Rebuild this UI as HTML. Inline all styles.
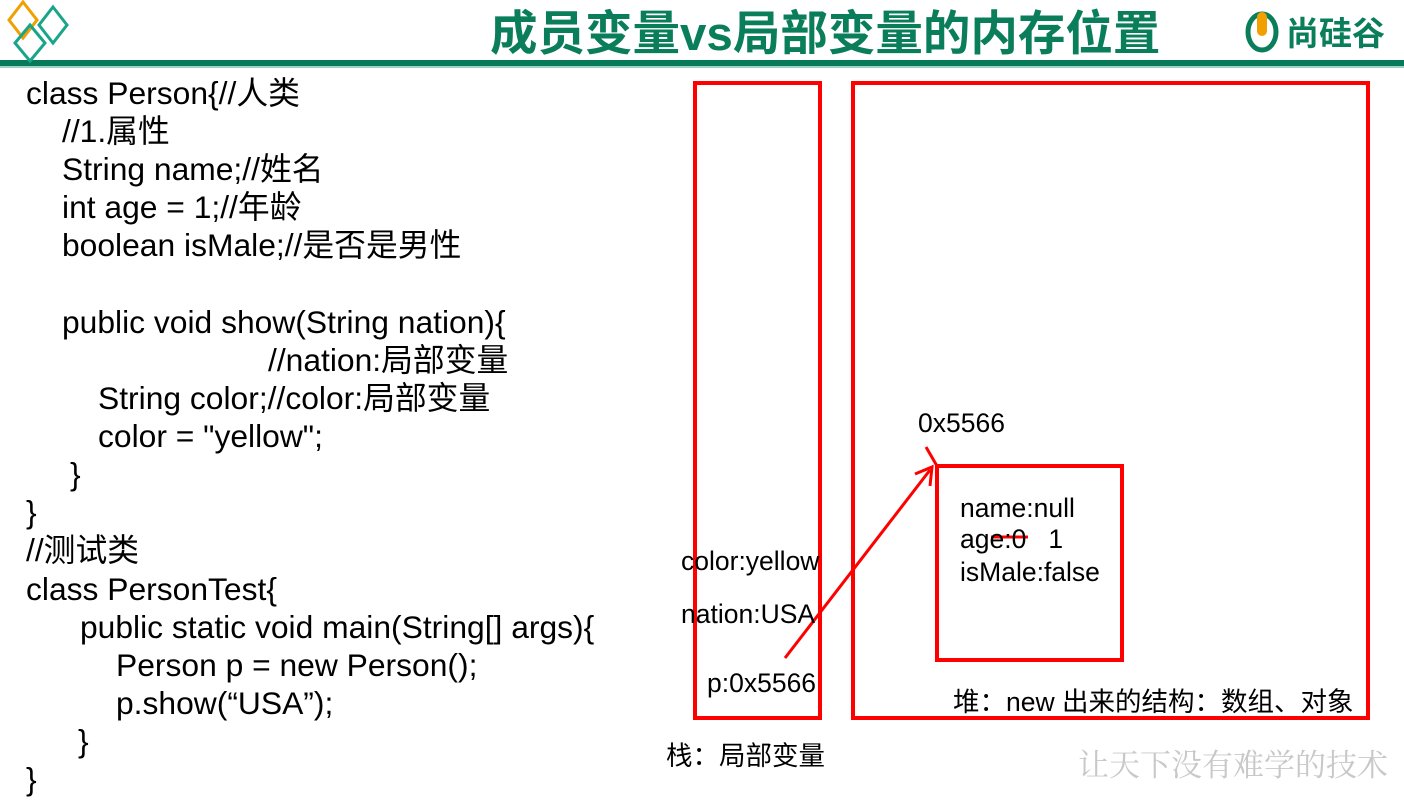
<!DOCTYPE html>
<html><head><meta charset="utf-8"><style>
body{margin:0;width:1404px;height:801px;background:#fff;position:relative;overflow:hidden;font-family:"Liberation Sans","Noto Sans CJK SC",sans-serif;}
.t{position:absolute;white-space:pre;font-size:31.8px;color:#000;line-height:38px;}
.s{position:absolute;white-space:pre;font-size:26.5px;color:#000;line-height:30px;}
</style></head><body>
<svg width="1404" height="801" style="position:absolute;left:0;top:0">
<rect x="0" y="60" width="1404" height="6" fill="#077a5a"/>
<rect x="0" y="66" width="1404" height="2" fill="#9fd1c2"/>
<polygon points="23,2 37,20 23,38 9,20" fill="none" stroke="#f0a000" stroke-width="3"/>
<polygon points="53,7 67,25 53,43 39,25" fill="none" stroke="#1aa58a" stroke-width="3"/>
<polygon points="30,25 45,43 30,61 15,43" fill="none" stroke="#1aa58a" stroke-width="3"/>
<text x="490" y="50" font-family="Liberation Sans,Noto Sans CJK SC,sans-serif" font-size="47.5" font-weight="bold" fill="#0a7d5a">成员变量vs局部变量的内存位置</text>
<ellipse cx="1262" cy="32" rx="14" ry="18" fill="none" stroke="#0a7d5a" stroke-width="5"/>
<rect x="1257" y="12" width="10" height="24" rx="5" fill="#f0a000"/>
<text x="1286" y="45" font-family="Noto Sans CJK SC,sans-serif" font-size="33" font-weight="bold" fill="#0a7d5a">尚硅谷</text>
<rect x="695" y="83" width="125" height="635" fill="none" stroke="#f00" stroke-width="4"/>
<rect x="853" y="83" width="515" height="635" fill="none" stroke="#f00" stroke-width="4"/>
<rect x="937" y="466" width="185" height="194" fill="none" stroke="#f00" stroke-width="4"/>
<line x1="785" y1="658" x2="930" y2="470" stroke="#f00" stroke-width="3"/>
<polyline points="915,474 932,467 930,486" fill="none" stroke="#f00" stroke-width="3"/>
<line x1="926" y1="447" x2="937" y2="466" stroke="#f00" stroke-width="3"/>
<line x1="991" y1="537" x2="1028" y2="537" stroke="#f00" stroke-width="3"/>
<text x="1078" y="776" font-family="Noto Serif CJK SC,serif" font-size="31" fill="#c8c8c8">让天下没有难学的技术</text>
</svg>
<div class="t" style="left:26px;top:74px">class Person{//人类</div>
<div class="t" style="left:62px;top:112px">//1.属性</div>
<div class="t" style="left:62px;top:150px">String name;//姓名</div>
<div class="t" style="left:62px;top:188px">int age = 1;//年龄</div>
<div class="t" style="left:62px;top:226px">boolean isMale;//是否是男性</div>
<div class="t" style="left:62px;top:303px">public void show(String nation){</div>
<div class="t" style="left:268px;top:341px">//nation:局部变量</div>
<div class="t" style="left:98px;top:379px">String color;//color:局部变量</div>
<div class="t" style="left:98px;top:417px">color = "yellow";</div>
<div class="t" style="left:70px;top:455px">}</div>
<div class="t" style="left:26px;top:493px">}</div>
<div class="t" style="left:26px;top:531px">//测试类</div>
<div class="t" style="left:26px;top:570px">class PersonTest{</div>
<div class="t" style="left:80px;top:608px">public static void main(String[] args){</div>
<div class="t" style="left:116px;top:646px">Person p = new Person();</div>
<div class="t" style="left:116px;top:684px">p.show(“USA”);</div>
<div class="t" style="left:78px;top:722px">}</div>
<div class="t" style="left:26px;top:760px">}</div>
<div class="s" style="left:681px;top:546px">color:yellow</div>
<div class="s" style="left:681px;top:599px">nation:USA</div>
<div class="s" style="left:707px;top:668px">p:0x5566</div>
<div class="s" style="left:666px;top:741px">栈：局部变量</div>
<div class="s" style="left:918px;top:408px">0x5566</div>
<div class="s" style="left:960px;top:493px">name:null</div>
<div class="s" style="left:960px;top:524px">age:0   1</div>
<div class="s" style="left:960px;top:557px">isMale:false</div>
<div class="s" style="left:953px;top:687px">堆：new 出来的结构：数组、对象</div>
</body></html>
